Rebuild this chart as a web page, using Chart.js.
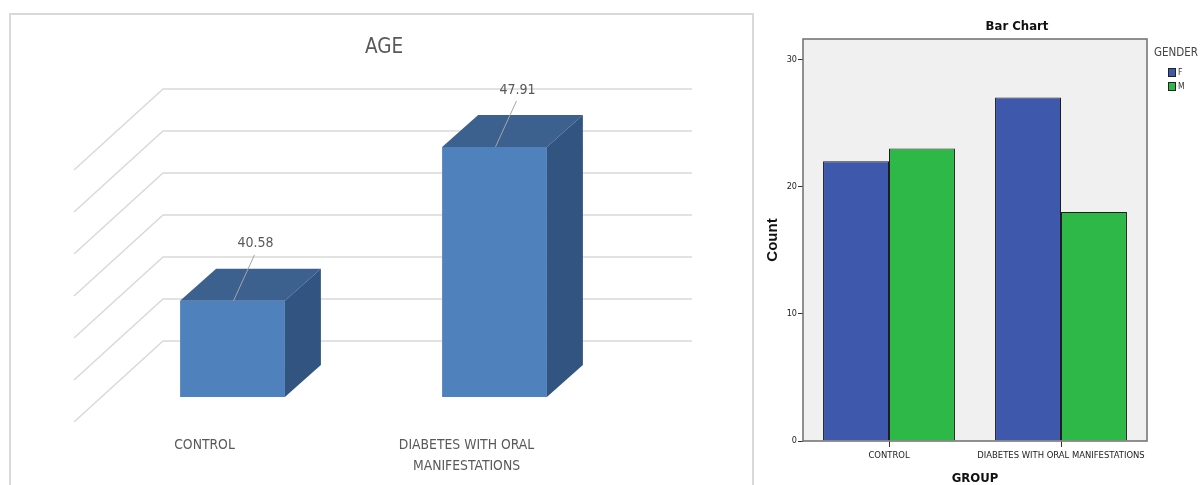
<!DOCTYPE html>
<html><head><meta charset="utf-8">
<script src="https://cdn.jsdelivr.net/npm/chart.js@4.4.1/dist/chart.umd.min.js"></script>
<style>
html,body{margin:0;padding:0;background:#fff;overflow:hidden;width:1201px;height:485px;}
#box{position:absolute;left:9px;top:13px;width:741px;height:500px;border:2px solid #d9d9d9;}
#c1{position:absolute;left:0;top:0;}
#c2{position:absolute;left:755px;top:0;}
</style></head><body>
<div id="box"></div>
<canvas id="c1" width="768" height="485"></canvas>
<canvas id="c2" width="524" height="485"></canvas>
<script>
// ---- data: left chart (AGE) ----
const ageTitle = 'AGE';
const ageCategories = ['CONTROL', ['DIABETES WITH ORAL', 'MANIFESTATIONS']];
const ageValues = [40.58, 47.91];
const ageGridTicks = [38, 40, 42, 44, 46, 48, 50];

// ---- data: right chart (Bar Chart) ----
const countTitle = 'Bar Chart';
const groupCategories = ['CONTROL', 'DIABETES WITH ORAL MANIFESTATIONS'];
const legendTitle = 'GENDER';
const genderLabels = ['F', 'M'];
const femaleCounts = [22, 27];
const maleCounts = [23, 18];
const countTicks = [0, 10, 20, 30];

const EXCEL_FONT = "'DejaVu Sans Condensed','Liberation Sans',sans-serif";
const NARROW = "'DejaVu Sans Condensed','Liberation Sans',sans-serif";
const DX = 36, DY = -32;

const wall3d = {
  id: 'wall3d',
  beforeDatasetsDraw(chart) {
    const {ctx, chartArea: a, scales: {y}} = chart;
    ctx.save();
    ctx.strokeStyle = '#d9d9d9';
    ctx.lineWidth = 1.5;
    ageGridTicks.forEach(v => {
      const py = y.getPixelForValue(v) - 14;
      const xl = a.left + 61.5, xr = a.right + 66.5;
      ctx.beginPath();
      ctx.moveTo(xl - 89, py + 81);
      ctx.lineTo(xl, py);
      ctx.lineTo(xr, py);
      ctx.stroke();
    });
    ctx.restore();
  },
  afterDatasetsDraw(chart) {
    const {ctx, scales: {y: ys}} = chart;
    const floor = ys.getPixelForValue(ys.min);
    const meta = chart.getDatasetMeta(0);
    ctx.save();
    meta.data.forEach((bar, i) => {
      const {x, y, width} = bar.getProps(['x', 'y', 'width'], true);
      const base = floor;
      const l = x - width / 2, r = x + width / 2;
      ctx.fillStyle = '#3c618f';
      ctx.beginPath();
      ctx.moveTo(l, y); ctx.lineTo(r, y); ctx.lineTo(r + DX, y + DY); ctx.lineTo(l + DX, y + DY);
      ctx.closePath(); ctx.fill();
      ctx.fillStyle = '#325481';
      ctx.beginPath();
      ctx.moveTo(r, y); ctx.lineTo(r + DX, y + DY); ctx.lineTo(r + DX, base + DY); ctx.lineTo(r, base);
      ctx.closePath(); ctx.fill();
      ctx.strokeStyle = '#a6a6a6';
      ctx.lineWidth = 1;
      ctx.beginPath(); ctx.moveTo(x + 22, y - 46); ctx.lineTo(x + 1, y); ctx.stroke();
      ctx.fillStyle = '#595959';
      ctx.font = '14px ' + EXCEL_FONT;
      ctx.textAlign = 'center';
      ctx.textBaseline = 'middle';
      ctx.fillText(ageValues[i].toFixed(2), x + 23, y - 57);
    });
    ctx.restore();
  }
};

new Chart(document.getElementById('c1'), {
  type: 'bar',
  data: {
    labels: ageCategories,
    datasets: [{label: ageTitle, data: ageValues, backgroundColor: '#4f81bd', borderWidth: 0,
      barPercentage: 0.4, categoryPercentage: 1}]
  },
  options: {
    responsive: false, animation: false,
    layout: {padding: 0},
    plugins: {
      legend: {display: false}, tooltip: {enabled: false},
      title: {display: true, text: ageTitle, color: '#595959',
        font: {family: EXCEL_FONT, size: 20.5, weight: 'normal', lineHeight: 1.2}, padding: {top: 35, bottom: 43.4}}
    },
    scales: {
      x: {ticks: {color: '#595959', font: {family: EXCEL_FONT, size: 13.8, lineHeight: 1.52}, labelOffset: -28,
          padding: 38, maxRotation: 0, autoSkip: false},
        grid: {display: false, drawTicks: false}, border: {display: false},
        afterFit(s) { s.height = 88; }},
      y: {type: 'linear', min: 36, max: 50, ticks: {display: false}, grid: {display: false, drawTicks: false},
        border: {display: false}, afterFit(s) { s.width = 101.5; }},
      yR: {type: 'linear', position: 'right', ticks: {display: false}, grid: {display: false, drawTicks: false},
        border: {display: false}, afterFit(s) { s.width = 142.5; }}
    }
  },
  plugins: [wall3d]
});

const spssFrame = {
  id: 'spssFrame',
  beforeDraw(chart) {
    const {ctx, chartArea: a} = chart;
    ctx.save();
    ctx.fillStyle = '#f0f0f0';
    ctx.fillRect(a.left, a.top, a.right - a.left, a.bottom - a.top);
    ctx.restore();
  },
  afterDraw(chart) {
    const {ctx, chartArea: a} = chart;
    ctx.save();
    ctx.strokeStyle = '#6e6e6e';
    ctx.lineWidth = 1.5;
    ctx.strokeRect(a.left, a.top, a.right - a.left, a.bottom - a.top);
    ctx.textAlign = 'left';
    ctx.textBaseline = 'middle';
    ctx.fillStyle = '#444';
    ctx.font = '11.5px ' + NARROW;
    ctx.fillText(legendTitle, a.right + 7, 53);
    chart.data.datasets.forEach((ds, i) => {
      const by = 68 + i * 14;
      ctx.fillStyle = ds.backgroundColor;
      ctx.fillRect(a.right + 21, by, 8, 9);
      ctx.strokeStyle = '#222';
      ctx.lineWidth = 1;
      ctx.strokeRect(a.right + 21.5, by + 0.5, 7, 8);
      ctx.fillStyle = '#333';
      ctx.font = '8.5px ' + NARROW;
      ctx.fillText(ds.label, a.right + 31, by + 4.5);
    });
    ctx.restore();
  }
};

new Chart(document.getElementById('c2'), {
  type: 'bar',
  data: {
    labels: groupCategories,
    datasets: [
      {label: genderLabels[0], data: femaleCounts, backgroundColor: '#3e58ac', borderColor: '#1e1e1e',
        borderWidth: 1, barPercentage: 1, categoryPercentage: 0.767},
      {label: genderLabels[1], data: maleCounts, backgroundColor: '#2eb848', borderColor: '#1e1e1e',
        borderWidth: 1, barPercentage: 1, categoryPercentage: 0.767}
    ]
  },
  options: {
    responsive: false, animation: false,
    layout: {padding: 0},
    plugins: {
      legend: {display: false}, tooltip: {enabled: false},
      title: {display: true, text: countTitle, color: '#111',
        font: {family: NARROW, size: 13, weight: 'bold', lineHeight: 1.2}, padding: {top: 19, bottom: 4.4}}
    },
    scales: {
      x: {ticks: {color: '#222', font: {family: NARROW, size: 9.4}, padding: 3, maxRotation: 0, autoSkip: false},
        grid: {display: true, drawOnChartArea: false, offset: false, tickLength: 6, color: '#333', lineWidth: 1},
        border: {display: false},
        title: {display: true, text: 'GROUP', color: '#111', font: {family: NARROW, size: 13, weight: 'bold', lineHeight: 1}, padding: 0},
        afterFit(s) { s.height = 44; }},
      y: {type: 'linear', min: 0, max: 31.6,
        afterBuildTicks(s) { s.ticks = countTicks.map(v => ({value: v})); },
        ticks: {color: '#222', font: {family: NARROW, size: 9}, padding: 1},
        grid: {drawOnChartArea: false, tickLength: 5, color: '#333', lineWidth: 1},
        border: {display: false},
        title: {display: true, text: 'Count', color: '#111',
          font: {family: "'Liberation Sans',Arial,sans-serif", size: 15, weight: 'bold'}, padding: {top: 9}},
        afterFit(s) { s.width = 48; }},
      yR: {type: 'linear', position: 'right', ticks: {display: false}, grid: {display: false, drawTicks: false},
        border: {display: false}, afterFit(s) { s.width = 132; }}
    }
  },
  plugins: [spssFrame]
});
</script>
</body></html>
